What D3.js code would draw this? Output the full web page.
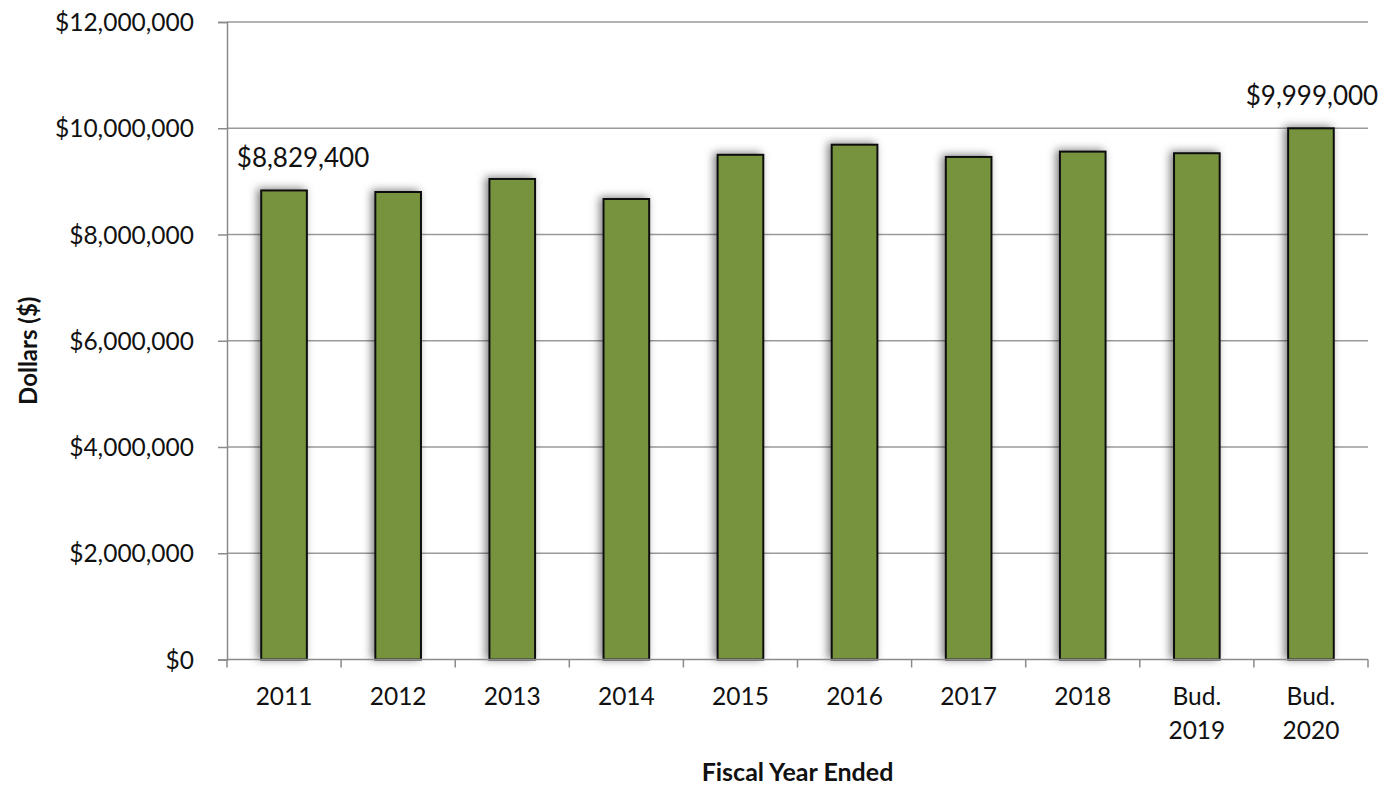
<!DOCTYPE html>
<html>
<head>
<meta charset="utf-8">
<script src="https://cdn.jsdelivr.net/npm/d3@7"></script>
<style>
  body { margin: 0; background: #fff; }
  text { font-family: Lato, "Open Sans", sans-serif; fill: #111; }
</style>
</head>
<body>
<div id="chart"></div>
<script>
// data
var categories = ["2011", "2012", "2013", "2014", "2015", "2016", "2017", "2018", "Bud. 2019", "Bud. 2020"];
var values = [8829400, 8800000, 9045000, 8668000, 9500000, 9690000, 9460000, 9560000, 9530000, 9999000];
var yTicks = [0, 2000000, 4000000, 6000000, 8000000, 10000000, 12000000];
var labelled = ["2011", "Bud. 2020"];

var width = 1383, height = 786;
var margin = {t: 22, r: 15, b: 126, l: 227};

var svg = d3.select("#chart").append("svg")
    .attr("width", width)
    .attr("height", height);

var defs = svg.append("defs");
var f = defs.append("filter").attr("id", "shadow")
    .attr("x", "-40%").attr("y", "-10%").attr("width", "180%").attr("height", "130%");
f.append("feDropShadow")
    .attr("dx", -3).attr("dy", -1)
    .attr("stdDeviation", 4)
    .attr("flood-color", "#000")
    .attr("flood-opacity", 0.5);

var x = d3.scaleBand()
    .domain(categories)
    .range([margin.l, width - margin.r])
    .paddingInner(0.6)
    .paddingOuter(0.3);

var y = d3.scaleLinear()
    .domain([0, 12000000])
    .range([height - margin.b - 0.5, margin.t]);

var fmt = function(d) { return "$" + d3.format(",")(d); };

// gridlines
svg.append("g").selectAll("line")
    .data(yTicks.slice(1))
    .enter().append("line")
    .attr("x1", margin.l).attr("x2", width - margin.r)
    .attr("y1", function(d) { return y(d); })
    .attr("y2", function(d) { return y(d); })
    .attr("stroke", "#9a9a9a")
    .attr("stroke-width", 1.5);

// y axis
var yAxis = svg.append("g")
    .attr("transform", "translate(" + margin.l + ",0)")
    .call(d3.axisLeft(y).tickValues(yTicks).tickFormat(fmt).tickSize(9).tickPadding(24));
yAxis.select(".domain").attr("stroke", "#8a8a8a").attr("stroke-width", 1.5);
yAxis.selectAll(".tick line").attr("stroke", "#8a8a8a").attr("stroke-width", 1.5);
yAxis.selectAll(".tick text").style("font-size", "24.5px").attr("dy", "0.35em");

// bars
svg.append("g").selectAll("rect")
    .data(values)
    .enter().append("rect")
    .attr("x", function(d, i) { return x(categories[i]); })
    .attr("y", function(d) { return y(d); })
    .attr("width", x.bandwidth())
    .attr("height", function(d) { return y(0) - y(d); })
    .attr("fill", "#77933c")
    .attr("stroke", "#111")
    .attr("stroke-width", 2)
    .attr("filter", "url(#shadow)");

// x axis
var band = x.step();
var edges = categories.map(function(c) { return x(c) - x.paddingInner() * band / 2; });
edges.push(width - margin.r);
var xg = svg.append("g");
xg.append("line")
    .attr("x1", margin.l).attr("x2", width - margin.r)
    .attr("y1", y(0)).attr("y2", y(0))
    .attr("stroke", "#8a8a8a").attr("stroke-width", 1.5);
xg.selectAll(".xtick").data(edges).enter().append("line")
    .attr("class", "xtick")
    .attr("x1", function(d) { return d; }).attr("x2", function(d) { return d; })
    .attr("y1", y(0)).attr("y2", y(0) + 8)
    .attr("stroke", "#8a8a8a").attr("stroke-width", 1.5);

var xl = xg.selectAll(".xlab").data(categories).enter().append("text")
    .attr("class", "xlab")
    .attr("text-anchor", "middle")
    .attr("x", function(d) { return x(d) + x.bandwidth() / 2; })
    .attr("y", y(0) + 45)
    .style("font-size", "24.5px");
xl.each(function(d) {
    var parts = d.split(" ");
    var t = d3.select(this);
    parts.forEach(function(p, j) {
        t.append("tspan")
            .attr("x", x(d) + x.bandwidth() / 2)
            .attr("dy", j === 0 ? 0 : 34)
            .text(p);
    });
});

// value labels
svg.append("g").selectAll("text")
    .data(values.filter(function(d, i) { return labelled.indexOf(categories[i]) >= 0; }))
    .enter().append("text")
    .attr("text-anchor", "middle")
    .attr("x", function(d) {
        var c = categories[values.indexOf(d)];
        return x(c) + x.bandwidth() / 2 + (c === "2011" ? 19 : 1);
    })
    .attr("y", function(d) { return y(d) - 23; })
    .style("font-size", "26px")
    .text(fmt);

// axis titles
svg.append("text")
    .attr("transform", "translate(37," + (y(6000000) + 10) + ") rotate(-90)")
    .attr("text-anchor", "middle")
    .style("font-size", "24px")
    .style("font-weight", "bold")
    .text("Dollars ($)");

svg.append("text")
    .attr("x", (margin.l + width - margin.r) / 2)
    .attr("y", 781)
    .attr("text-anchor", "middle")
    .style("font-size", "25px")
    .style("font-weight", "bold")
    .text("Fiscal Year Ended");
</script>
</body>
</html>
